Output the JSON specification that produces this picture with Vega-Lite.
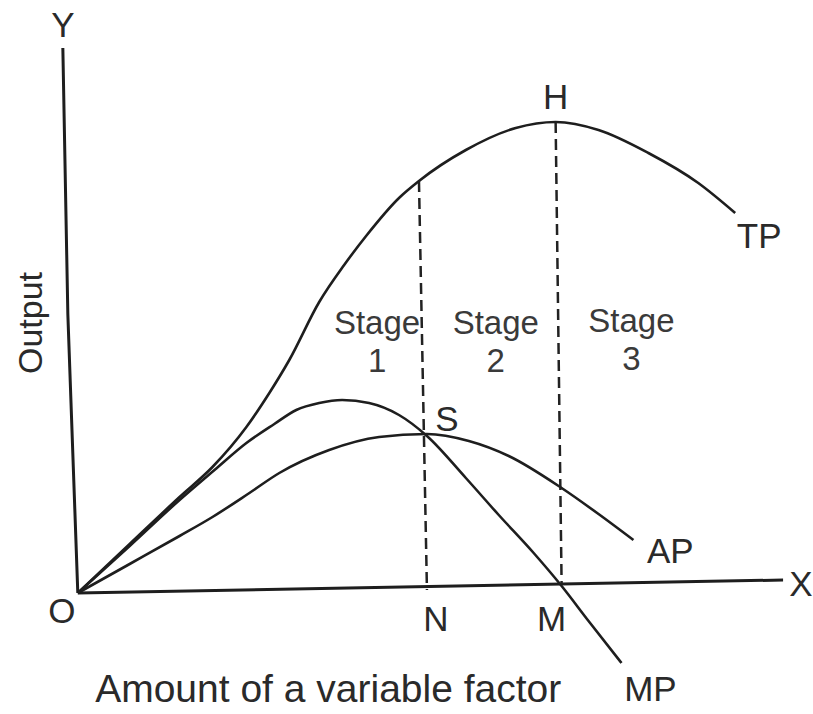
{
  "$schema": "https://vega.github.io/schema/vega-lite/v6.json",
  "width": 813,
  "height": 714,
  "padding": 0,
  "autosize": {"type": "fit", "contains": "padding"},
  "background": "white",
  "config": {"view": {"stroke": null}, "font": "Liberation Sans"},
  "datasets": {
    "curves": [
      {"series": "TP", "x": 78, "y": 121}, {"series": "TP", "x": 130, "y": 170}, {"series": "TP", "x": 180, "y": 217},
      {"series": "TP", "x": 213, "y": 247}, {"series": "TP", "x": 247, "y": 287}, {"series": "TP", "x": 270, "y": 321},
      {"series": "TP", "x": 290, "y": 354}, {"series": "TP", "x": 320, "y": 412}, {"series": "TP", "x": 345, "y": 449},
      {"series": "TP", "x": 367, "y": 478}, {"series": "TP", "x": 400, "y": 516}, {"series": "TP", "x": 420, "y": 533},
      {"series": "TP", "x": 467, "y": 564}, {"series": "TP", "x": 517, "y": 586}, {"series": "TP", "x": 557, "y": 592},
      {"series": "TP", "x": 600, "y": 584}, {"series": "TP", "x": 650, "y": 561}, {"series": "TP", "x": 700, "y": 531},
      {"series": "TP", "x": 737, "y": 501},
      {"series": "MP", "x": 78, "y": 121}, {"series": "MP", "x": 130, "y": 168}, {"series": "MP", "x": 180, "y": 214},
      {"series": "MP", "x": 215, "y": 244}, {"series": "MP", "x": 247, "y": 271}, {"series": "MP", "x": 275, "y": 290},
      {"series": "MP", "x": 297, "y": 304}, {"series": "MP", "x": 320, "y": 311}, {"series": "MP", "x": 343, "y": 314},
      {"series": "MP", "x": 370, "y": 311}, {"series": "MP", "x": 400, "y": 299}, {"series": "MP", "x": 428, "y": 278},
      {"series": "MP", "x": 467, "y": 236}, {"series": "MP", "x": 500, "y": 199}, {"series": "MP", "x": 535, "y": 161},
      {"series": "MP", "x": 563, "y": 128}, {"series": "MP", "x": 590, "y": 93}, {"series": "MP", "x": 623, "y": 51},
      {"series": "AP", "x": 78, "y": 121}, {"series": "AP", "x": 130, "y": 150}, {"series": "AP", "x": 180, "y": 178},
      {"series": "AP", "x": 213, "y": 197}, {"series": "AP", "x": 250, "y": 221}, {"series": "AP", "x": 280, "y": 241},
      {"series": "AP", "x": 330, "y": 264}, {"series": "AP", "x": 380, "y": 277}, {"series": "AP", "x": 428, "y": 280},
      {"series": "AP", "x": 470, "y": 273}, {"series": "AP", "x": 510, "y": 258}, {"series": "AP", "x": 563, "y": 226},
      {"series": "AP", "x": 600, "y": 200}, {"series": "AP", "x": 635, "y": 174}
    ],
    "axes": [
      {"series": "Yaxis", "x": 63, "y": 666}, {"series": "Yaxis", "x": 68, "y": 400}, {"series": "Yaxis", "x": 78, "y": 121},
      {"series": "Xaxis", "x": 78, "y": 121}, {"series": "Xaxis", "x": 785, "y": 134}
    ],
    "dashed": [
      {"series": "N", "x": 420, "y": 533}, {"series": "N", "x": 428, "y": 124},
      {"series": "M", "x": 557, "y": 592}, {"series": "M", "x": 563, "y": 129}
    ],
    "labels": [
      {"label": "Y", "x": 63, "y": 688},
      {"label": "X", "x": 803, "y": 129},
      {"label": "O", "x": 62, "y": 102},
      {"label": "N", "x": 437, "y": 94},
      {"label": "M", "x": 553, "y": 94},
      {"label": "H", "x": 557, "y": 616},
      {"label": "S", "x": 448, "y": 294},
      {"label": "TP", "x": 761, "y": 477},
      {"label": "AP", "x": 672, "y": 162},
      {"label": "MP", "x": 652, "y": 24}
    ],
    "stages": [
      {"label": "Stage\n1", "x": 378, "y": 390},
      {"label": "Stage\n2", "x": 497, "y": 390},
      {"label": "Stage\n3", "x": 633, "y": 392}
    ],
    "titles": [
      {"label": "Amount of a variable factor", "x": 329, "y": 24}
    ],
    "ytitle": [
      {"label": "Output", "x": 32, "y": 391}
    ]
  },
  "encoding": {
    "x": {"field": "x", "type": "quantitative", "scale": {"domain": [0, 813], "nice": false, "zero": false}, "axis": null},
    "y": {"field": "y", "type": "quantitative", "scale": {"domain": [0, 714], "nice": false, "zero": false}, "axis": null}
  },
  "layer": [
    {
      "data": {"name": "axes"},
      "mark": {"type": "line", "color": "#1e1e1e", "strokeWidth": 3},
      "encoding": {"detail": {"field": "series"}}
    },
    {
      "data": {"name": "dashed"},
      "mark": {"type": "line", "color": "#222222", "strokeWidth": 2.5, "strokeDash": [11, 6]},
      "encoding": {"detail": {"field": "series"}}
    },
    {
      "data": {"name": "curves"},
      "mark": {"type": "line", "color": "#1e1e1e", "strokeWidth": 2.6, "interpolate": "monotone"},
      "encoding": {"detail": {"field": "series"}}
    },
    {
      "data": {"name": "labels"},
      "mark": {"type": "text", "fontSize": 35, "color": "#2a2a2a", "align": "center", "baseline": "middle"},
      "encoding": {"text": {"field": "label"}}
    },
    {
      "data": {"name": "stages"},
      "mark": {"type": "text", "fontSize": 33, "color": "#3a3a3a", "align": "center", "baseline": "middle", "lineBreak": "\n", "lineHeight": 38},
      "encoding": {"text": {"field": "label"}}
    },
    {
      "data": {"name": "titles"},
      "mark": {"type": "text", "fontSize": 39, "color": "#2a2a2a", "align": "center", "baseline": "middle"},
      "encoding": {"text": {"field": "label"}}
    },
    {
      "data": {"name": "ytitle"},
      "mark": {"type": "text", "fontSize": 34, "color": "#2a2a2a", "align": "center", "baseline": "middle", "angle": 270},
      "encoding": {"text": {"field": "label"}}
    }
  ]
}
